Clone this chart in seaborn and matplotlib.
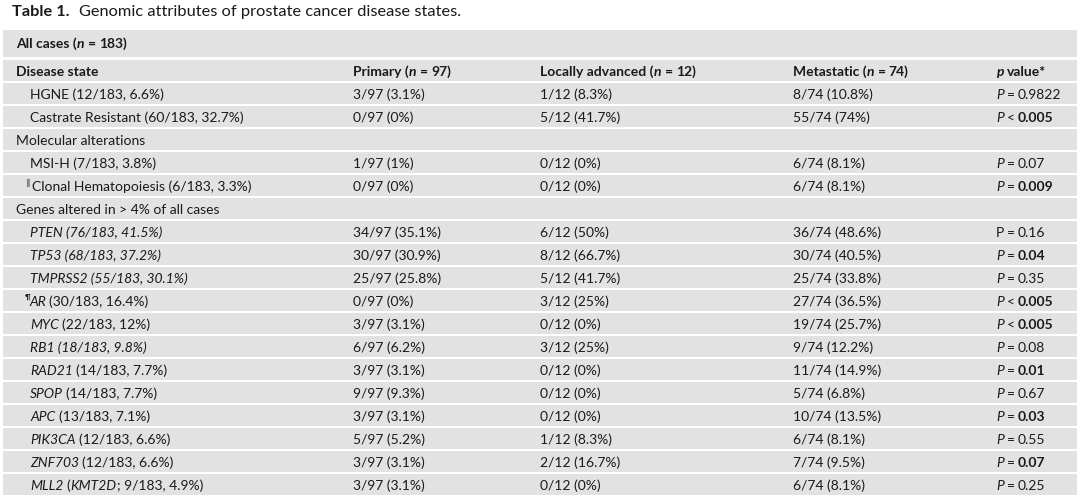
import matplotlib
matplotlib.use("Agg")
import matplotlib.pyplot as plt
from matplotlib.font_manager import FontProperties
import seaborn as sns

# ---------------- data ----------------
title_label = "Table 1."
title_text = "Genomic attributes of prostate cancer disease states."
total_n = 183
group_names = ["Primary", "Locally advanced", "Metastatic"]
group_n = [97, 12, 74]

disease_states = ["HGNE", "Castrate Resistant"]
disease_counts = ["12/183, 6.6%", "60/183, 32.7%"]
disease_primary = ["3/97 (3.1%)", "0/97 (0%)"]
disease_local = ["1/12 (8.3%)", "5/12 (41.7%)"]
disease_met = ["8/74 (10.8%)", "55/74 (74%)"]
disease_p_op = ["=", "<"]
disease_p_val = ["0.9822", "0.005"]
disease_p_sig = [False, True]

mol_names = ["MSI-H", "Clonal Hematopoiesis"]
mol_counts = ["7/183, 3.8%", "6/183, 3.3%"]
mol_primary = ["1/97 (1%)", "0/97 (0%)"]
mol_local = ["0/12 (0%)", "0/12 (0%)"]
mol_met = ["6/74 (8.1%)", "6/74 (8.1%)"]
mol_p_op = ["=", "="]
mol_p_val = ["0.07", "0.009"]
mol_p_sig = [False, True]

genes = ["PTEN", "TP53", "TMPRSS2", "AR", "MYC", "RB1", "RAD21", "SPOP",
         "APC", "PIK3CA", "ZNF703", "MLL2"]
gene_alias = {"MLL2": "KMT2D"}
gene_counts = ["76/183, 41.5%", "68/183, 37.2%", "55/183, 30.1%", "30/183, 16.4%",
               "22/183, 12%", "18/183, 9.8%", "14/183, 7.7%", "14/183, 7.7%",
               "13/183, 7.1%", "12/183, 6.6%", "12/183, 6.6%", "9/183, 4.9%"]
gene_primary = ["34/97 (35.1%)", "30/97 (30.9%)", "25/97 (25.8%)", "0/97 (0%)",
                "3/97 (3.1%)", "6/97 (6.2%)", "3/97 (3.1%)", "9/97 (9.3%)",
                "3/97 (3.1%)", "5/97 (5.2%)", "3/97 (3.1%)", "3/97 (3.1%)"]
gene_local = ["6/12 (50%)", "8/12 (66.7%)", "5/12 (41.7%)", "3/12 (25%)",
              "0/12 (0%)", "3/12 (25%)", "0/12 (0%)", "0/12 (0%)",
              "0/12 (0%)", "1/12 (8.3%)", "2/12 (16.7%)", "0/12 (0%)"]
gene_met = ["36/74 (48.6%)", "30/74 (40.5%)", "25/74 (33.8%)", "27/74 (36.5%)",
            "19/74 (25.7%)", "9/74 (12.2%)", "11/74 (14.9%)", "5/74 (6.8%)",
            "10/74 (13.5%)", "6/74 (8.1%)", "7/74 (9.5%)", "6/74 (8.1%)"]
gene_p_op = ["=", "=", "=", "<", "<", "=", "=", "=", "=", "=", "=", "="]
gene_p_val = ["0.16", "0.04", "0.35", "0.005", "0.005", "0.08", "0.01", "0.67",
              "0.03", "0.55", "0.07", "0.25"]
gene_p_sig = [False, True, False, True, True, False, True, False, True, False, True, False]

section_names = ["Molecular alterations", "Genes altered in > 4% of all cases"]

# ---------------- style ----------------
sns.set_theme(style="white")
FONT = "Lato"
plt.rcParams["font.family"] = [FONT, "DejaVu Sans"]
TXT = "#1a1a1a"
GRAY = "#e2e2e2"
FS = 10.0
TITLE_FS = 11.8

fully_italic = {"PTEN", "TP53", "TMPRSS2", "RB1"}
upright_p = {"PTEN"}

fig = plt.figure(figsize=(10.8, 4.96), dpi=100)
ax = fig.add_axes([0, 0, 1, 1])
ax.set_xlim(0, 1080)
ax.set_ylim(496, 0)
ax.axis("off")
renderer = fig.canvas.get_renderer()


def fp(size=FS, weight="normal", style="normal"):
    return FontProperties(family=FONT, size=size, weight=weight, style=style)


def width(s, prop):
    if not s:
        return 0.0
    w1, _, _ = renderer.get_text_width_height_descent(s + "|", prop, ismath=False)
    w2, _, _ = renderer.get_text_width_height_descent("|", prop, ismath=False)
    return w1 - w2


def rich(x, y, segs, size=FS):
    """segs: (text, weight, style, gap_before_px or None)"""
    for s, w, st, gap in segs:
        prop = fp(size, w, st)
        sp = width("a a", prop) - width("aa", prop)
        lead = len(s) - len(s.lstrip(" "))
        trail = len(s) - len(s.rstrip(" "))
        core = s.strip(" ")
        x += gap if gap is not None else lead * sp
        if core:
            ax.text(x, y, core, fontproperties=prop, color=TXT, ha="left", va="center")
            x += width(core, prop)
        x += trail * sp
    return x


N, B, I, BI = ("normal", "normal"), ("bold", "normal"), ("normal", "italic"), ("bold", "italic")


def seg(s, f, gap=None):
    return (s, f[0], f[1], gap)


# ---------------- layout ----------------
X0, X1 = 3, 1077
COLX = [16, 353, 540, 793, 996]
IND = 30
ROW_H = 23
GAP = 2
TOP0, TOP1 = 30, 57
HDR_TOP = 60

rows = []
rows.append(("header", None))
for i in range(len(disease_states)):
    rows.append(("item", dict(label=[seg(f"{disease_states[i]} ({disease_counts[i]})", N)],
                              vals=[disease_primary[i], disease_local[i], disease_met[i]],
                              p=(disease_p_op[i], disease_p_val[i], disease_p_sig[i], False),
                              mark=None)))
rows.append(("section", section_names[0]))
for i in range(len(mol_names)):
    rows.append(("item", dict(label=[seg(f"{mol_names[i]} ({mol_counts[i]})", N)],
                              vals=[mol_primary[i], mol_local[i], mol_met[i]],
                              p=(mol_p_op[i], mol_p_val[i], mol_p_sig[i], False),
                              mark="bar" if i == 1 else None)))
rows.append(("section", section_names[1]))
for i, g in enumerate(genes):
    if g in fully_italic:
        lab = [seg(f"{g} ({gene_counts[i]})", I)]
    elif g in gene_alias:
        lab = [seg(g, I), seg(" (", N), seg(gene_alias[g], I), seg(f"; {gene_counts[i]})", N)]
    else:
        lab = [seg(g, I), seg(f" ({gene_counts[i]})", N)]
    rows.append(("item", dict(label=lab,
                              vals=[gene_primary[i], gene_local[i], gene_met[i]],
                              p=(gene_p_op[i], gene_p_val[i], gene_p_sig[i], g in upright_p),
                              mark="pil" if g == "AR" else None)))

# background bars
centers = [(TOP0 + TOP1) / 2] + [HDR_TOP + ROW_H * k + (ROW_H - GAP) / 2 for k in range(len(rows))]
heights = [TOP1 - TOP0] + [ROW_H - GAP] * len(rows)
ax.barh(centers, [X1 - X0] * len(centers), left=X0, height=heights, color=GRAY,
        edgecolor="none", linewidth=0)

# title
rich(12, 12, [seg(title_label, B)], size=TITLE_FS)
rich(79, 12, [seg(title_text, N)], size=TITLE_FS)

# all cases row
rich(COLX[0], centers[0] + 0.5, [seg("All cases (", B), seg("n", BI),
                                 seg("=", B, 3.5), seg(f"{total_n})", B, 3)])

TY = 1.5
for k, (kind, pl) in enumerate(rows):
    y = centers[k + 1] + TY
    if kind == "header":
        rich(COLX[0], y, [seg("Disease state", B)])
        for j in range(3):
            rich(COLX[j + 1], y, [seg(f"{group_names[j]} (", B), seg("n", BI),
                                  seg("=", B, 3.5), seg(f"{group_n[j]})", B, 3)])
        rich(COLX[4], y, [seg("p", BI), seg(" value*", B)])
    elif kind == "section":
        rich(COLX[0], y, [seg(pl, N)])
    else:
        x_lab = IND
        if pl["mark"] == "bar":
            ax.text(26, y - 4.5, "\u258C", fontsize=5.5, color="#8a8a8a",
                    ha="left", va="center", family="DejaVu Sans")
            x_lab = IND + 1.5
        elif pl["mark"] == "pil":
            ax.text(25, y - 5, "\u00B6", color=TXT, ha="left", va="center",
                    fontproperties=fp(5.5, "bold"))
            x_lab = IND - 1
        rich(x_lab, y, pl["label"])
        for j in range(3):
            rich(COLX[j + 1], y, [seg(pl["vals"][j], N)])
        op, val, sig, up = pl["p"]
        rich(COLX[4], y, [seg("P", N if up else I), seg(op, N, 3),
                          seg(val, B if sig else N, 2.5)])

fig.savefig("out.png", dpi=100, facecolor="white")
